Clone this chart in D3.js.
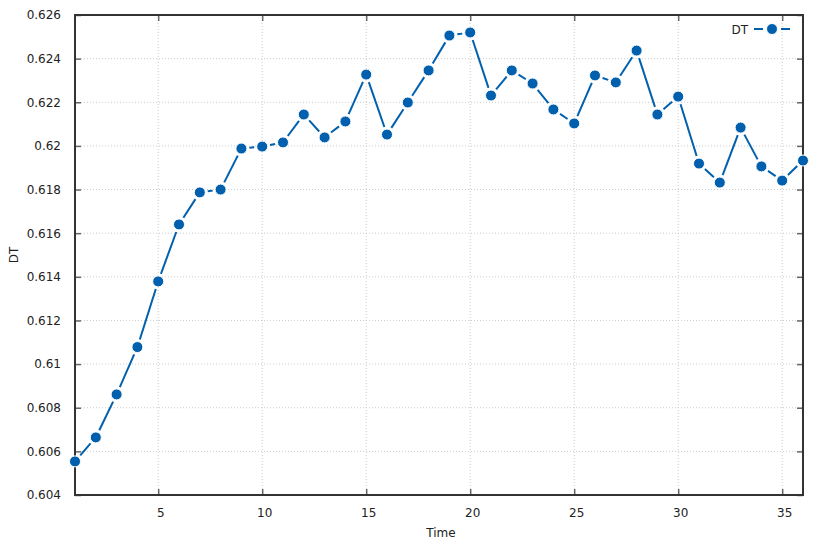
<!DOCTYPE html>
<html>
<head>
<meta charset="utf-8">
<script src="https://cdn.jsdelivr.net/npm/d3@7"></script>
<style>
body{margin:0;background:#fff;}
text{font-family:"DejaVu Sans",sans-serif;font-size:12px;fill:#222;}
</style>
</head>
<body>
<div id="chart"></div>
<script>
var time=[1,2,3,4,5,6,7,8,9,10,11,12,13,14,15,16,17,18,19,20,21,22,23,24,25,26,27,28,29,30,31,32,33,34,35,36];
var dt=[0.60554,0.60664,0.60861,0.61078,0.61379,0.61640,0.61787,0.61800,0.61988,0.61997,0.62016,0.62144,
0.62039,0.62112,0.62327,0.62052,0.62199,0.62346,0.62506,0.62520,0.62231,0.62346,0.62286,0.62167,
0.62103,0.62323,0.62291,0.62437,0.62144,0.62226,0.61919,0.61832,0.62084,0.61906,0.61841,0.61933];
var xTicks=[5,10,15,20,25,30,35];
var yTicks=[0.604,0.606,0.608,0.61,0.612,0.614,0.616,0.618,0.62,0.622,0.624,0.626];

var width=824,height=543;
var margin={top:15,left:75,right:21,bottom:48};
var color="#0060ad";
var svg=d3.select("#chart").append("svg").attr("width",width).attr("height",height);

var x=d3.scaleLinear().domain([1,36]).range([margin.left,width-margin.right]);
var y=d3.scaleLinear().domain([0.604,0.626]).range([height-margin.bottom,margin.top]);

// grid
svg.append("g").selectAll("line").data(xTicks).enter().append("line")
.attr("x1",d=>x(d)).attr("x2",d=>x(d)).attr("y1",y(0.604)).attr("y2",y(0.626))
.attr("stroke","#ccc").attr("stroke-dasharray","1,2");
svg.append("g").selectAll("line").data(yTicks.slice(1,-1)).enter().append("line")
.attr("x1",x(1)).attr("x2",x(36)).attr("y1",d=>y(d)).attr("y2",d=>y(d))
.attr("stroke","#ccc").attr("stroke-dasharray","1,2");

// axes (ticks inward, mirrored)
function styleAxis(g){
  g.select(".domain").remove();
  g.selectAll(".tick line").attr("stroke","#666").attr("stroke-width",1.5);
  g.selectAll(".tick text").style("font-family","DejaVu Sans").style("font-size","12px").attr("fill","#222");
}
svg.append("g").attr("transform","translate(0,"+y(0.604)+")")
.call(d3.axisBottom(x).tickValues(xTicks).tickSize(-6).tickPadding(13).tickFormat(d3.format("d")))
.call(styleAxis)
.selectAll(".tick text").attr("dx",2);
svg.append("g").attr("transform","translate(0,"+y(0.626)+")")
.call(d3.axisTop(x).tickValues(xTicks).tickSize(-6).tickFormat(""))
.call(styleAxis);
svg.append("g").attr("transform","translate("+x(1)+",0)")
.call(d3.axisLeft(y).tickValues(yTicks).tickSize(-6).tickPadding(14).tickFormat(d=>String(+d.toFixed(3))))
.call(styleAxis);
svg.append("g").attr("transform","translate("+x(36)+",0)")
.call(d3.axisRight(y).tickValues(yTicks).tickSize(-6).tickFormat(""))
.call(styleAxis);

// border
svg.append("rect").attr("x",x(1)).attr("y",y(0.626))
.attr("width",x(36)-x(1)).attr("height",y(0.604)-y(0.626))
.attr("fill","none").attr("stroke","#333").attr("stroke-width",2);

// line segments with gaps around points
var gap=8;
var pts=time.map((t,i)=>[x(t),y(dt[i])]);
var segs=[];
for(var i=0;i<pts.length-1;i++){
  var a=pts[i],b=pts[i+1];
  var dx=b[0]-a[0],dy=b[1]-a[1],len=Math.sqrt(dx*dx+dy*dy);
  if(len>2*gap){
    var ux=dx/len,uy=dy/len;
    segs.push([a[0]+ux*gap,a[1]+uy*gap,b[0]-ux*gap,b[1]-uy*gap]);
  }
}
svg.append("g").selectAll("line").data(segs).enter().append("line")
.attr("x1",d=>d[0]).attr("y1",d=>d[1]).attr("x2",d=>d[2]).attr("y2",d=>d[3])
.attr("stroke",color).attr("stroke-width",2);

svg.append("g").selectAll("circle").data(time).enter().append("circle")
.attr("cx",d=>x(d)).attr("cy",(d,i)=>y(dt[i])).attr("r",5.5)
.attr("fill",color).attr("stroke","#fff").attr("stroke-width",1);

// legend
var lg=svg.append("g");
lg.append("text").attr("x",748).attr("y",33.5).attr("text-anchor","end").text("DT");
lg.append("line").attr("x1",754).attr("x2",763).attr("y1",29).attr("y2",29).attr("stroke",color).attr("stroke-width",2);
lg.append("line").attr("x1",781).attr("x2",790).attr("y1",29).attr("y2",29).attr("stroke",color).attr("stroke-width",2);
lg.append("circle").attr("cx",772).attr("cy",29).attr("r",5.5).attr("fill",color).attr("stroke","#fff");

// axis titles
svg.append("text").attr("x",441).attr("y",537).attr("text-anchor","middle").text("Time");
svg.append("text").attr("transform","translate(18,255) rotate(-90)").attr("text-anchor","middle").text("DT");
</script>
</body>
</html>
